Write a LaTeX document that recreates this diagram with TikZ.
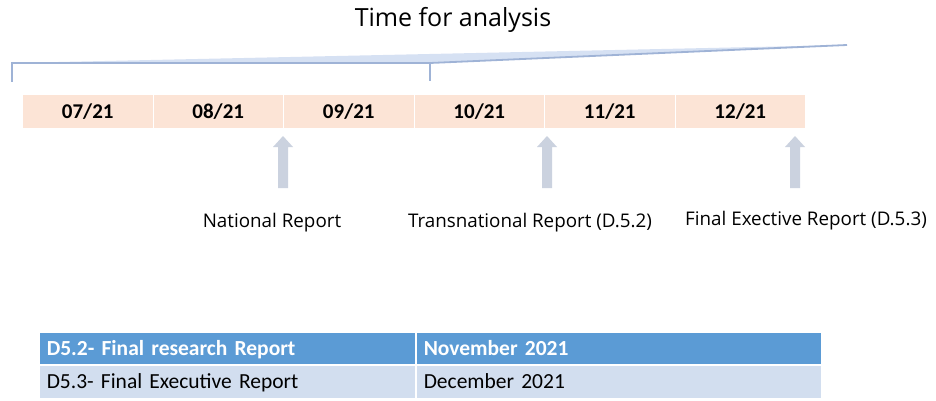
\documentclass[tikz,border=0pt]{standalone}
\usepackage{fontspec}
\setmainfont{Carlito}
\newfontfamily\labfont{Open Sans}
\begin{document}
\begin{tikzpicture}[x=1pt,y=-1pt,
  month/.style={fill=peach,draw=white,line width=1pt,minimum width=130.5pt,minimum height=34pt,inner sep=0pt,anchor=north west,font=\fontsize{21}{24}\selectfont\bfseries},
  lab/.style={font=\labfont\fontsize{18.8}{22}\selectfont,inner sep=0pt,anchor=base},
  cell/.style={draw=white,line width=1.5pt,minimum height=33pt,inner ysep=0pt,text height=16pt,text depth=2pt,anchor=north west,align=left},
  hdr/.style={cell,fill=hdrblue,text=white,font=\fontsize{21.5}{24}\selectfont\bfseries},
  row/.style={cell,fill=rowblue,font=\fontsize{21.5}{24}\selectfont}]
\definecolor{peach}{HTML}{FCE4D6}
\definecolor{hdrblue}{HTML}{5B9BD5}
\definecolor{rowblue}{HTML}{D2DEEF}
\definecolor{arrowgray}{HTML}{CBD2DF}
\definecolor{bracefill}{HTML}{D6E1F3}
\definecolor{bracedraw}{HTML}{9FB3D6}
\useasboundingbox (0,0) rectangle (936,401);
% title
\node[font=\labfont\fontsize{25}{28}\selectfont,inner sep=0pt] (title) at (453,20) {Time for analysis};
% brace / zoom shape
\coordinate (bl) at (12,63);
\coordinate (bm) at (430,63);
\coordinate (br) at (847,45);
\fill[bracefill] (bl) -- (br) -- (bm) -- cycle;
\draw[bracedraw,line width=1.8pt] (bl) -- (bm) -- (br);
\draw[bracedraw,line width=1.8pt] (12,62) -- (12,82);
\draw[bracedraw,line width=1.8pt] (430,62) -- (430,81);
% months
\node[month] (m7)  at (22,94)    {07/21};
\node[month] (m8)  at (152.5,94) {08/21};
\node[month] (m9)  at (283,94)   {09/21};
\node[month] (m10) at (413.5,94) {10/21};
\node[month] (m11) at (544,94)   {11/21};
\node[month] (m12) at (674.5,94) {12/21};
% block arrows
\foreach \cx in {283,547,795}{
  \fill[arrowgray] (\cx,136) -- (\cx+10,147) -- (\cx+5,147) -- (\cx+5,188) -- (\cx-5,188) -- (\cx-5,147) -- (\cx-10,147) -- cycle;
}
% labels
\node[lab] (l1) at (272,227) {National Report};
\node[lab] (l2) at (530,227) {Transnational Report (D.5.2)};
\node[lab] (l3) at (806,225) {Final Exective Report (D.5.3)};
% table
\node[hdr,minimum width=377pt,text width=361pt,inner xsep=8pt] (h1) at (38,331) {D5.2- Final research Report};
\node[hdr,minimum width=406pt,text width=390pt,inner xsep=8pt] (h2) at (415,331) {November 2021};
\node[row,minimum width=377pt,text width=361pt,inner xsep=8pt] (r1) at (38,364.5) {D5.3- Final Executive Report};
\node[row,minimum width=406pt,text width=390pt,inner xsep=8pt] (r2) at (415,364.5) {December 2021};
\end{tikzpicture}
\end{document}
